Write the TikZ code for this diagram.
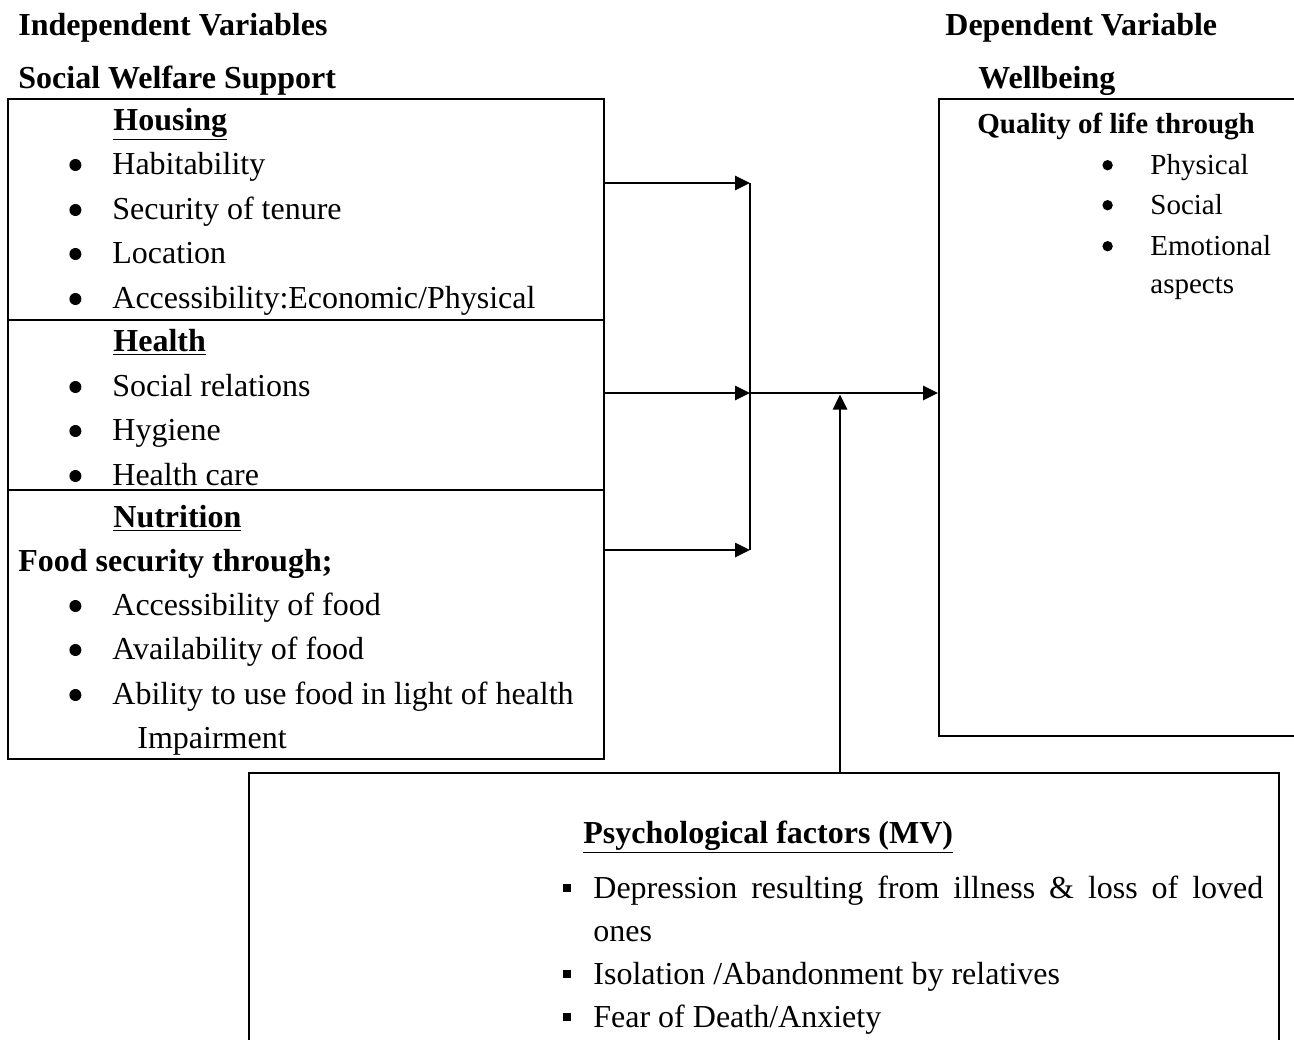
\documentclass[tikz,border=0pt]{standalone}
\usepackage{fontspec}
\setmainfont{Liberation Serif}
\usetikzlibrary{arrows.meta,positioning}
\newcommand{\bul}{\makebox[21.5pt][l]{\raisebox{1.5pt}{\tikz\fill (0,0) circle (3pt);}}}
\newcommand{\rbul}{\makebox[24pt][l]{\raisebox{1.8pt}{\tikz\fill (0,0) circle (2.6pt);}}}
\newcommand{\sqbul}{\makebox[15pt][l]{\rule[3pt]{4pt}{4pt}}}

\begin{document}
\begin{tikzpicture}[
  x=0.5pt,y=-0.5pt,
  txt/.style={anchor=base west,inner sep=0pt,font=\fontsize{16}{19}\selectfont},
  bold/.style={txt,font=\fontsize{16}{19}\selectfont\bfseries},
  small/.style={anchor=base west,inner sep=0pt,font=\fontsize{14.5}{17}\selectfont},
  frame/.style={draw=black,line width=1pt,anchor=north west,inner sep=0pt},
  line/.style={line width=1.3pt},
  arrow/.style={line,-{Triangle[length=7.5pt,width=7pt]}}
]
\useasboundingbox (0,0) rectangle (1294,1039);
% headings
\node[bold] (indep) at (18,35) {Independent Variables};
\node[bold] (dep) at (945,35) {Dependent Variable};
\node[bold] (sws) at (18,88) {Social Welfare Support};
\node[bold] (wb) at (978,88) {Wellbeing};
% boxes
\node[frame,minimum width=298pt,minimum height=110.5pt] (housing) at (7,98) {};
\node[frame,minimum width=298pt,minimum height=85pt] (health) at (7,319) {};
\node[frame,minimum width=298pt,minimum height=134.5pt] (nutrition) at (7,489) {};
\node[frame,minimum width=181pt,minimum height=318.5pt] (wellbox) at (938,98) {};
\node[frame,minimum width=515pt,minimum height=140pt] (psych) at (248,772) {};
% housing
\node[bold] (hhead) at (113,130) {\underline{Housing}};
\node[txt] (h1) at (69,174) {\bul Habitability};
\node[txt] (h2) at (69,219) {\bul Security of tenure};
\node[txt] (h3) at (69,263) {\bul Location};
\node[txt] (h4) at (69,308) {\bul Accessibility:Economic/Physical};
% health
\node[bold] (khead) at (113,351) {\underline{Health}};
\node[txt] (k1) at (69,396) {\bul Social relations};
\node[txt] (k2) at (69,440) {\bul Hygiene};
\node[txt] (k3) at (69,485) {\bul Health care};
% nutrition
\node[bold] (nhead) at (113,527) {\underline{Nutrition}};
\node[bold] (nsub) at (18,571) {Food security through;};
\node[txt] (n1) at (69,615) {\bul Accessibility of food};
\node[txt] (n2) at (69,659) {\bul Availability of food};
\node[txt] (n3) at (69,704) {\bul Ability to use food in light of health};
\node[txt] (n4) at (137,748) {Impairment};
% wellbeing
\node[small,font=\fontsize{14.5}{17}\selectfont\bfseries] (whead) at (977,133) {Quality of life through};
\node[small] (w1) at (1102,174) {\rbul Physical};
\node[small] (w2) at (1102,214) {\rbul Social};
\node[small] (w3) at (1102,255) {\rbul Emotional};
\node[small] (w4) at (1150,293) {aspects};
% psychological factors
\node[bold] (phead) at (583,843) {\underline{Psychological factors (MV)}};
\node[txt] (p1) at (563,898) {\sqbul\makebox[335pt][s]{Depression resulting from illness \& loss of loved}};
\node[txt] (p2) at (593,941) {ones};
\node[txt] (p3) at (563,984) {\sqbul Isolation /Abandonment by relatives};
\node[txt] (p4) at (563,1027) {\sqbul Fear of Death/Anxiety};
% connectors
\coordinate (jtop) at (750,183);
\coordinate (jmid) at (750,393);
\coordinate (jbot) at (750,550);
\coordinate (meet) at (840,394.5);
\draw[arrow] (housing.east |- jtop) -- (jtop);
\draw[arrow] (health.east |- jmid) -- (jmid);
\draw[arrow] (nutrition.east |- jbot) -- (jbot);
\draw[line] (jtop) -- (jbot);
\draw[arrow] (jmid) -- (wellbox.west |- jmid);
\draw[arrow] (psych.north -| meet) -- (meet);
\end{tikzpicture}
\end{document}
